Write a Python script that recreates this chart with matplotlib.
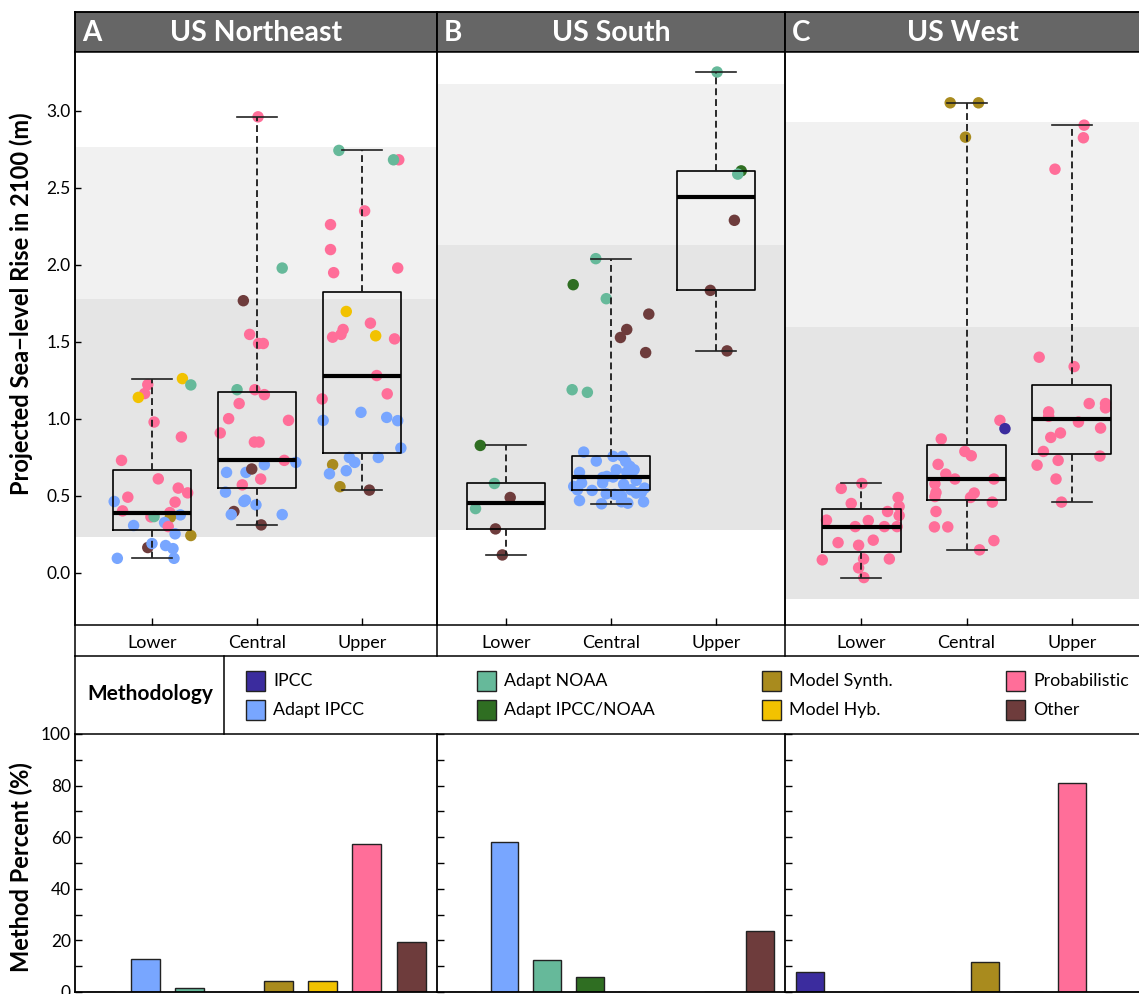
import numpy as np
import matplotlib.pyplot as plt
from matplotlib.patches import Rectangle
from matplotlib.lines import Line2D

plt.rcParams['font.family'] = ['Lato', 'DejaVu Sans']

W, H = 1139, 994

# methods, colours
methods = ['IPCC', 'Adapt IPCC', 'Adapt NOAA', 'Adapt IPCC/NOAA',
           'Model Synth.', 'Model Hyb.', 'Probabilistic', 'Other']
method_keys = ['ipcc', 'aipcc', 'anoaa', 'ain', 'msyn', 'mhyb', 'prob', 'oth']
method_colors = ['#3B2C9E', '#78A6FF', '#66B99A', '#2F6E22',
                 '#A98B1E', '#F2C200', '#FF6E99', '#6E3C3C']
color_of = dict(zip(method_keys, method_colors))

scenarios = ['Lower', 'Central', 'Upper']
regions = ['US Northeast', 'US South', 'US West']
letters = ['A', 'B', 'C']

# likely / very likely ranges behind the boxes (m)
band_light = [(1.78, 2.765), (2.13, 3.175), (1.60, 2.93)]
band_dark = [(0.235, 1.78), (0.28, 2.13), (-0.17, 1.60)]

# ---- projections: value (m), method, horizontal jitter ----
ne_lower_val = [1.262, 1.223, 1.221, 1.165, 1.14, 0.98, 0.883, 0.731, 0.611, 0.551,
                0.520, 0.492, 0.464, 0.460, 0.403, 0.392, 0.377, 0.364, 0.366, 0.362,
                0.327, 0.301, 0.308, 0.254, 0.243, 0.165, 0.191, 0.178, 0.158, 0.095, 0.095]
ne_lower_met = ['mhyb', 'prob', 'anoaa', 'prob', 'mhyb', 'prob', 'prob', 'prob', 'prob', 'prob',
                'prob', 'prob', 'aipcc', 'prob', 'prob', 'prob', 'aipcc', 'prob', 'anoaa', 'msyn',
                'aipcc', 'prob', 'aipcc', 'aipcc', 'msyn', 'oth', 'aipcc', 'aipcc', 'aipcc', 'aipcc', 'aipcc']
ne_lower_dx = [0.29, -0.04, 0.37, -0.07, -0.13, 0.02, 0.28, -0.29, 0.06, 0.25,
               0.34, -0.23, -0.36, 0.22, -0.28, 0.17, 0.27, -0.01, 0.02, 0.175,
               0.12, 0.155, -0.175, 0.22, 0.37, -0.04, 0.0, 0.13, 0.2, -0.33, 0.21]

ne_central_val = [2.962, 1.98, 1.768, 1.549, 1.49, 1.49, 1.19, 1.19, 1.158, 1.10,
                  1.002, 0.991, 0.909, 0.85, 0.85, 0.731, 0.718, 0.703, 0.653, 0.653,
                  0.675, 0.61, 0.572, 0.525, 0.464, 0.473, 0.442, 0.399, 0.379, 0.379, 0.312]
ne_central_met = ['prob', 'anoaa', 'oth', 'prob', 'prob', 'prob', 'anoaa', 'prob', 'prob', 'prob',
                  'prob', 'prob', 'prob', 'prob', 'prob', 'prob', 'aipcc', 'aipcc', 'aipcc', 'aipcc',
                  'oth', 'prob', 'prob', 'aipcc', 'aipcc', 'aipcc', 'aipcc', 'oth', 'aipcc', 'aipcc', 'oth']
ne_central_dx = [0.01, 0.24, -0.13, -0.07, 0.015, 0.06, -0.19, -0.02, 0.07, -0.17,
                 -0.27, 0.30, -0.35, -0.025, 0.02, 0.26, 0.37, 0.07, -0.29, -0.105,
                 -0.05, 0.035, -0.14, -0.30, -0.125, -0.11, -0.01, -0.22, -0.245, 0.24, 0.04]

ne_upper_val = [2.744, 2.683, 2.683, 2.351, 2.262, 2.10, 1.95, 1.98, 1.698, 1.622,
                1.581, 1.549, 1.531, 1.54, 1.52, 1.282, 1.163, 1.13, 1.043, 0.991,
                1.01, 0.989, 0.811, 0.75, 0.718, 0.75, 0.703, 0.644, 0.664, 0.56, 0.538]
ne_upper_met = ['anoaa', 'prob', 'anoaa', 'prob', 'prob', 'prob', 'prob', 'prob', 'mhyb', 'prob',
                'prob', 'prob', 'prob', 'mhyb', 'prob', 'prob', 'prob', 'prob', 'aipcc', 'aipcc',
                'aipcc', 'aipcc', 'aipcc', 'aipcc', 'aipcc', 'aipcc', 'msyn', 'aipcc', 'aipcc', 'msyn', 'oth']
ne_upper_dx = [-0.22, 0.35, 0.30, 0.025, -0.30, -0.30, -0.27, 0.34, -0.15, 0.08,
               -0.18, -0.20, -0.28, 0.13, 0.31, 0.14, 0.24, -0.38, -0.01, -0.37,
               0.235, 0.34, 0.37, -0.12, -0.07, 0.155, -0.28, -0.31, -0.15, -0.21, 0.07]

so_lower_val = [0.828, 0.581, 0.49, 0.418, 0.286, 0.117]
so_lower_met = ['ain', 'anoaa', 'oth', 'anoaa', 'oth', 'oth']
so_lower_dx = [-0.245, -0.11, 0.04, -0.29, -0.10, -0.035]

so_central_val = [2.041, 1.872, 1.781, 1.681, 1.581, 1.529, 1.431, 1.19, 1.173,
                  0.785, 0.757, 0.757, 0.727, 0.724, 0.692, 0.670, 0.670, 0.655, 0.653,
                  0.627, 0.623, 0.620, 0.601, 0.584, 0.584, 0.575, 0.562, 0.551, 0.540,
                  0.540, 0.536, 0.525, 0.519, 0.514, 0.510, 0.500, 0.470, 0.462, 0.462,
                  0.453, 0.449]
so_central_met = ['anoaa', 'ain', 'anoaa', 'oth', 'oth', 'oth', 'oth', 'anoaa', 'anoaa'] + ['aipcc'] * 32
so_central_dx = [-0.145, -0.36, -0.045, 0.36, 0.15, 0.09, 0.33, -0.37, -0.225,
                 -0.26, 0.02, 0.11, -0.14, 0.14, 0.18, 0.22, 0.05, 0.15, -0.30,
                 -0.04, 0.02, -0.08, 0.24, -0.28, -0.08, 0.12, -0.355, 0.32, -0.32,
                 0.19, -0.18, 0.29, 0.24, -0.045, 0.035, 0.10, -0.30, 0.10, 0.31,
                 0.16, -0.09]

so_upper_val = [3.253, 2.611, 2.59, 2.29, 1.835, 1.442]
so_upper_met = ['anoaa', 'ain', 'anoaa', 'oth', 'oth', 'oth']
so_upper_dx = [0.01, 0.24, 0.207, 0.175, -0.054, 0.105]

we_lower_val = [0.581, 0.549, 0.49, 0.451, 0.432, 0.399, 0.373, 0.343, 0.34, 0.301,
                0.301, 0.301, 0.197, 0.213, 0.18, 0.085, 0.091, 0.091, 0.033, -0.03]
we_lower_met = ['prob'] * 20
we_lower_dx = [0.006, -0.19, 0.35, -0.095, 0.36, 0.25, 0.36, -0.33, 0.067, -0.057,
               0.22, 0.34, -0.22, 0.114, -0.025, -0.37, 0.022, 0.267, -0.025, 0.025]

we_central_val = [3.053, 3.053, 2.83, 0.991, 0.937, 0.87, 0.789, 0.761, 0.705, 0.642,
                  0.61, 0.61, 0.579, 0.522, 0.496, 0.519, 0.49, 0.46, 0.399, 0.299,
                  0.299, 0.21, 0.15]
we_central_met = ['msyn', 'msyn', 'msyn', 'prob', 'ipcc'] + ['prob'] * 18
we_central_dx = [-0.155, 0.114, -0.01, 0.317, 0.365, -0.24, -0.016, 0.045, -0.27, -0.197,
                 -0.11, 0.26, -0.30, -0.29, -0.30, 0.073, 0.038, 0.245, -0.29, -0.305,
                 -0.178, 0.26, 0.124]

we_upper_val = [2.908, 2.826, 2.622, 1.401, 1.34, 1.10, 1.10, 1.072, 1.046, 1.017,
                0.98, 0.941, 0.909, 0.88, 0.789, 0.70, 0.731, 0.759, 0.61, 0.46]
we_upper_met = ['prob'] * 20
we_upper_dx = [0.117, 0.11, -0.16, -0.31, 0.022, 0.165, 0.32, 0.32, -0.22, -0.22,
               0.063, 0.273, -0.108, -0.2, -0.27, -0.33, -0.13, 0.267, -0.15, -0.098]

# share of each methodology per region (%)
pct_northeast = [0, 12.7, 1.4, 0, 4.4, 4.4, 57.5, 19.5]
pct_south = [0, 58.0, 12.4, 5.8, 0, 0, 0, 23.6]
pct_west = [7.6, 0, 0, 0, 11.5, 0, 80.9, 0]

points = [
    [(ne_lower_val, ne_lower_met, ne_lower_dx),
     (ne_central_val, ne_central_met, ne_central_dx),
     (ne_upper_val, ne_upper_met, ne_upper_dx)],
    [(so_lower_val, so_lower_met, so_lower_dx),
     (so_central_val, so_central_met, so_central_dx),
     (so_upper_val, so_upper_met, so_upper_dx)],
    [(we_lower_val, we_lower_met, we_lower_dx),
     (we_central_val, we_central_met, we_central_dx),
     (we_upper_val, we_upper_met, we_upper_dx)],
]
percents = [pct_northeast, pct_south, pct_west]


def fivenum(v):
    # Tukey five-number summary (hinges), as in R's boxplot
    x = np.sort(np.asarray(v, dtype=float))
    n = len(x)
    n4 = np.floor((n + 3) / 2) / 2
    d = np.array([1, n4, (n + 1) / 2, n + 1 - n4, n]) - 1
    return 0.5 * (x[np.floor(d).astype(int)] + x[np.ceil(d).astype(int)])


def px_rect(x0, y0, x1, y1):
    return [x0 / W, 1 - y1 / H, (x1 - x0) / W, (y1 - y0) / H]


fig = plt.figure(figsize=(W / 100, H / 100), dpi=100)

panel_x = [(75, 437), (437, 785), (785, 1141)]
panel_xlim = [(0.267, 3.714), (0.343, 3.657), (0.276, 3.657)]
ylim = (-0.338, 3.383)

for i in range(3):
    x0, x1 = panel_x[i]

    # strip header
    hax = fig.add_axes(px_rect(x0, 12, x1, 52))
    hax.set_facecolor('#666666')
    hax.set_xticks([])
    hax.set_yticks([])
    for s in hax.spines.values():
        s.set_linewidth(1.1)
    hax.text(7 / (x1 - x0), 0.47, letters[i], transform=hax.transAxes, color='white',
             fontsize=20, fontweight='bold', ha='left', va='center')
    hax.text(0.5, 0.47, regions[i], transform=hax.transAxes, color='white',
             fontsize=20.5, fontweight='bold', ha='center', va='center')

    # projections
    ax = fig.add_axes(px_rect(x0, 52, x1, 625))
    ax.set_xlim(*panel_xlim[i])
    ax.set_ylim(*ylim)
    ax.axhspan(*band_light[i], color='#F1F1F1', lw=0, zorder=0)
    ax.axhspan(*band_dark[i], color='#E5E5E5', lw=0, zorder=0)

    stats = []
    for j in range(3):
        vals, mets, dxs = points[i][j]
        xs = (j + 1) + np.asarray(dxs)
        cols = [color_of[m] for m in mets]
        ax.scatter(xs, vals, s=68, c=cols, linewidths=0, zorder=2)
        lo, q1, med, q3, hi = fivenum(vals)
        stats.append(dict(med=med, q1=q1, q3=q3, whislo=lo, whishi=hi, fliers=[]))

    ax.bxp(stats, positions=[1, 2, 3], widths=0.75, showfliers=False,
           boxprops=dict(color='black', lw=1.2),
           medianprops=dict(color='black', lw=3.0, solid_capstyle='butt'),
           whiskerprops=dict(color='#1A1A1A', lw=1.3, linestyle=(0, (3.8, 2.2))),
           capprops=dict(color='#222222', lw=1.2),
           capwidths=0.38, manage_ticks=False, zorder=3)

    ax.set_xticks([1, 2, 3])
    ax.set_xticklabels(scenarios)
    ax.tick_params(axis='x', direction='in', length=5, width=1, labelsize=13, pad=7)
    ax.spines['top'].set_visible(False)
    ax.spines['right'].set_visible(False)
    for s in ('left', 'bottom'):
        ax.spines[s].set_linewidth(1.1)
    if i == 0:
        ax.set_yticks(np.arange(0, 3.01, 0.5))
        ax.set_yticklabels([f'{v:.1f}' for v in np.arange(0, 3.01, 0.5)])
        ax.tick_params(axis='y', direction='in', length=4, width=1, labelsize=12.5, pad=3)
    else:
        ax.set_yticks([])

    # methodology shares
    bax = fig.add_axes(px_rect(x0, 734, x1, 992))
    bax.bar(np.arange(1, 9), percents[i], width=0.65, color=method_colors,
            edgecolor='#222222', linewidth=1.0, zorder=2)
    bax.set_xlim(0.42, 8.58)
    bax.set_ylim(0, 100)
    bax.set_xticks([])
    bax.set_yticks(np.arange(0, 101, 20))
    bax.set_yticks(np.arange(10, 100, 20), minor=True)
    bax.tick_params(axis='y', which='both', direction='in', length=5, width=1,
                    labelsize=12.5, pad=3)
    if i > 0:
        bax.set_yticklabels([])
    bax.spines['top'].set_visible(False)
    bax.spines['right'].set_visible(False)
    for s in ('left', 'bottom'):
        bax.spines[s].set_linewidth(1.3)
        bax.spines[s].set_zorder(3)

# frame lines, legend box and legend entries drawn in pixel space
ov = fig.add_axes([0, 0, 1, 1], zorder=10)
ov.set_xlim(0, W)
ov.set_ylim(H, 0)
ov.axis('off')
lw = 1.1
for x in (75, 437, 785):
    ov.add_line(Line2D([x, x], [12, 656], color='black', lw=lw))
ov.add_line(Line2D([75, 75], [656, 734], color='black', lw=lw))
ov.add_line(Line2D([224, 224], [656, 734], color='black', lw=lw))
for y in (12, 52, 656, 734):
    ov.add_line(Line2D([75, W], [y, y], color='black', lw=lw))

ov.text(150, 694, 'Methodology', fontsize=15, fontweight='bold',
        ha='center', va='center')
col_left = [246, 477, 762, 1006]
row_y = [681, 710]
for k, (name, col) in enumerate(zip(methods, method_colors)):
    cx = col_left[k // 2]
    cy = row_y[k % 2]
    ov.add_patch(Rectangle((cx, cy - 10), 19, 20, facecolor=col,
                           edgecolor='#222222', lw=1.0))
    ov.text(cx + 27, cy, name, fontsize=12.8, ha='left', va='center')

fig.text(21 / W, 1 - 304 / H, 'Projected Sea\u2212level Rise in 2100 (m)', rotation=90,
         fontsize=17, fontweight='bold', ha='center', va='center')
fig.text(21 / W, 1 - 867 / H, 'Method Percent (%)', rotation=90,
         fontsize=17, fontweight='bold', ha='center', va='center')

fig.savefig('out.png', dpi=100)
